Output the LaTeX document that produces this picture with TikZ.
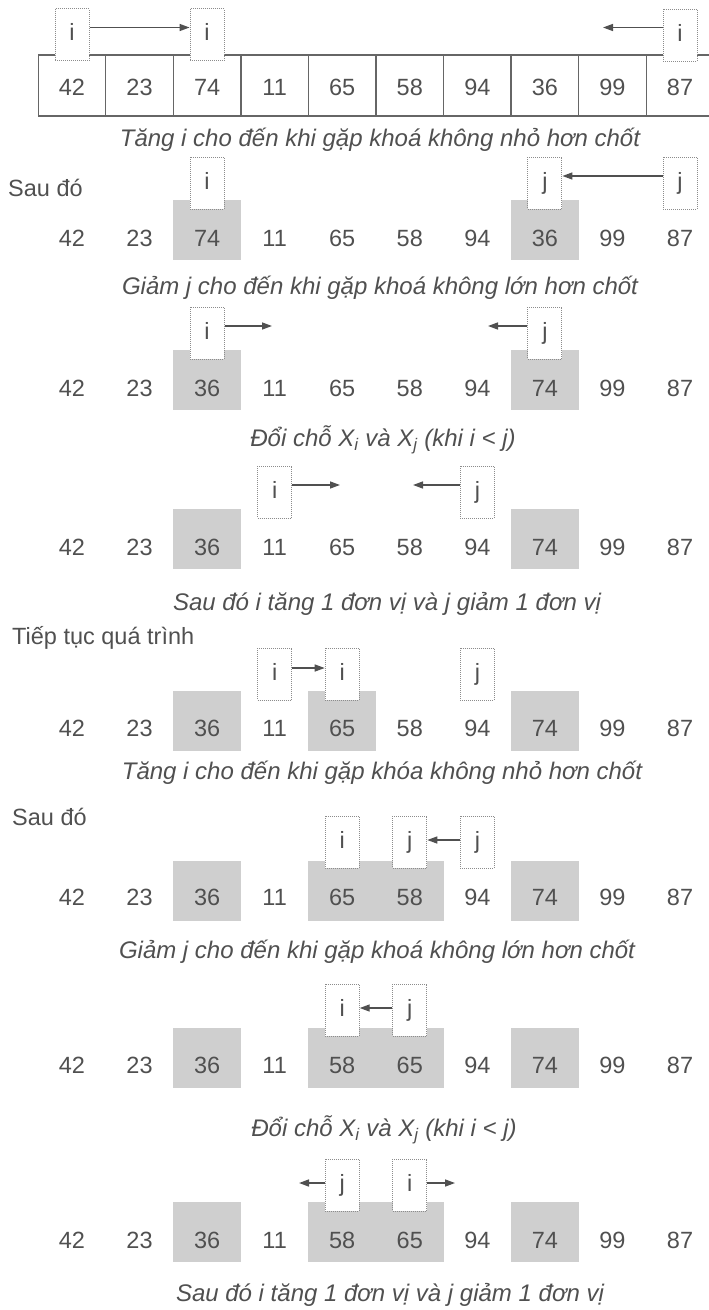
\documentclass[tikz,border=0pt]{standalone}
\usepackage{fontspec}
\setmainfont{Liberation Sans}
\usetikzlibrary{arrows.meta}

\definecolor{ink}{HTML}{505050}
\definecolor{shade}{HTML}{CFCFCF}
\definecolor{frame}{HTML}{666666}
\definecolor{dotline}{HTML}{8C8C8C}

\tikzset{
  num/.style={text=ink, font=\fontsize{23.5}{26}\selectfont, inner sep=0pt},
  caption/.style={text=ink, font=\fontsize{24}{26}\selectfont\itshape, inner sep=0pt},
  sidelabel/.style={text=ink, font=\fontsize{23.5}{26}\selectfont, inner sep=0pt, anchor=west},
  ptr/.style={draw=dotline, densely dotted, line width=1pt, fill=white, text=ink,
    minimum width=34pt, minimum height=52pt, inner sep=0pt,
    text height=16pt, text depth=4pt, font=\fontsize{23.5}{26}\selectfont},
  hl/.style={fill=shade, draw=none},
  mv/.style={draw=ink, line width=1.4pt, -{Triangle[length=10pt,width=7pt]}},
  cellbox/.style={draw=frame, line width=1.3pt},
}

% one row of keys: name prefix, baseline centre y, values
\newcommand\keyrow[3]{%
  \foreach \v [count=\k] in {#3} {%
    \node[num] (#1-\k) at ({72+(\k-1)*67.56},#2) {\v};}}
% shaded cells: top y, list of cell indices
\newcommand\hlcells[2]{%
  \foreach \k in {#2} {%
    \fill[hl] ({38.2+(\k-1)*67.56},#1) rectangle +(67.56,60);}}

\begin{document}
\begin{tikzpicture}[x=1pt,y=-1pt]
\useasboundingbox (0,0) rectangle (709,1310);

% ---- array in boxes
\begin{scope}
  \clip (0,0) rectangle (709,1310);
  \foreach \k in {0,...,9} \draw[cellbox] (38.2+\k*67.56,55) rectangle +(67.56,61);
\end{scope}
\keyrow{a}{87}{42,23,74,11,65,58,94,36,99,87}
\node[ptr] (p1a) at (72,34.5) {i};
\node[ptr] (p1b) at (207.1,34.5) {i};
\node[ptr] (p1c) at (680,35) {i};
\coordinate (e1) at (603,27.5);
\draw[mv] ([yshift=7pt]p1a.east) -- ([yshift=7pt]p1b.west);
\draw[mv] ([yshift=7.5pt]p1c.west) -- (e1);
\node[caption] (cap1) at (380,140) {Tăng i cho đến khi gặp khoá không nhỏ hơn chốt};

% ---- step 2
\node[sidelabel] (s1) at (8,188) {Sau đó};
\hlcells{200}{3,8}
\keyrow{b}{238}{42,23,74,11,65,58,94,36,99,87}
\node[ptr] (p2i) at (207.1,183) {i};
\node[ptr] (p2j) at (544.9,183) {j};
\node[ptr] (p2k) at (680,183) {j};
\draw[mv] ([yshift=7pt]p2k.west) -- ([yshift=7pt]p2j.east);
\node[caption] (cap2) at (380,288) {Giảm j cho đến khi gặp khoá không lớn hơn chốt};

% ---- step 3
\hlcells{350}{3,8}
\keyrow{c}{388}{42,23,36,11,65,58,94,74,99,87}
\node[ptr] (p3i) at (207.1,333) {i};
\node[ptr] (p3j) at (544.9,333) {j};
\coordinate (e3i) at (272,326);
\coordinate (e3j) at (488,326);
\draw[mv] ([yshift=7pt]p3i.east) -- (e3i);
\draw[mv] ([yshift=7pt]p3j.west) -- (e3j);
\node[caption] (cap3) at (383,440) {Đổi chỗ X\textsubscript{i} và X\textsubscript{j} (khi i < j)};

% ---- step 4
\hlcells{509}{3,8}
\keyrow{d}{547}{42,23,36,11,65,58,94,74,99,87}
\node[ptr] (p4i) at (274.7,492) {i};
\node[ptr] (p4j) at (477.4,492) {j};
\coordinate (e4i) at (340,485);
\coordinate (e4j) at (413,485);
\draw[mv] ([yshift=7pt]p4i.east) -- (e4i);
\draw[mv] ([yshift=7pt]p4j.west) -- (e4j);
\node[caption] (cap4) at (387,604) {Sau đó i tăng 1 đơn vị và j giảm 1 đơn vị};

% ---- step 5
\node[sidelabel] (s2) at (12,638) {Tiếp tục quá trình};
\hlcells{691}{3,5,8}
\keyrow{e}{728}{42,23,36,11,65,58,94,74,99,87}
\node[ptr] (p5a) at (274.7,674) {i};
\node[ptr] (p5b) at (342.2,674) {i};
\node[ptr] (p5j) at (477.4,674) {j};
\draw[mv] ([yshift=6pt]p5a.east) -- ([yshift=6pt]p5b.west);
\node[caption] (cap5) at (382,773) {Tăng i cho đến khi gặp khóa không nhỏ hơn chốt};

% ---- step 6
\node[sidelabel] (s3) at (12,817) {Sau đó};
\hlcells{861}{3,5,6,8}
\keyrow{f}{897}{42,23,36,11,65,58,94,74,99,87}
\node[ptr] (p6i) at (342.2,842) {i};
\node[ptr] (p6j) at (409.8,842) {j};
\node[ptr] (p6k) at (477.4,842) {j};
\draw[mv] ([yshift=2pt]p6k.west) -- ([yshift=2pt]p6j.east);
\node[caption] (cap6) at (377,952) {Giảm j cho đến khi gặp khoá không lớn hơn chốt};

% ---- step 7
\hlcells{1028}{3,5,6,8}
\keyrow{g}{1065}{42,23,36,11,58,65,94,74,99,87}
\node[ptr] (p7i) at (342.2,1010) {i};
\node[ptr] (p7j) at (409.8,1010) {j};
\draw[mv] ([yshift=2pt]p7j.west) -- ([yshift=2pt]p7i.east);
\node[caption] (cap7) at (384,1130) {Đổi chỗ X\textsubscript{i} và X\textsubscript{j} (khi i < j)};

% ---- step 8
\hlcells{1202}{3,5,6,8}
\keyrow{h}{1240}{42,23,36,11,58,65,94,74,99,87}
\node[ptr] (p8j) at (342.2,1185) {j};
\node[ptr] (p8i) at (409.8,1185) {i};
\coordinate (e8j) at (299,1183);
\coordinate (e8i) at (455,1183);
\draw[mv] ([yshift=2pt]p8j.west) -- (e8j);
\draw[mv] ([yshift=2pt]p8i.east) -- (e8i);
\node[caption] (cap8) at (390,1295) {Sau đó i tăng 1 đơn vị và j giảm 1 đơn vị};
\end{tikzpicture}
\end{document}
